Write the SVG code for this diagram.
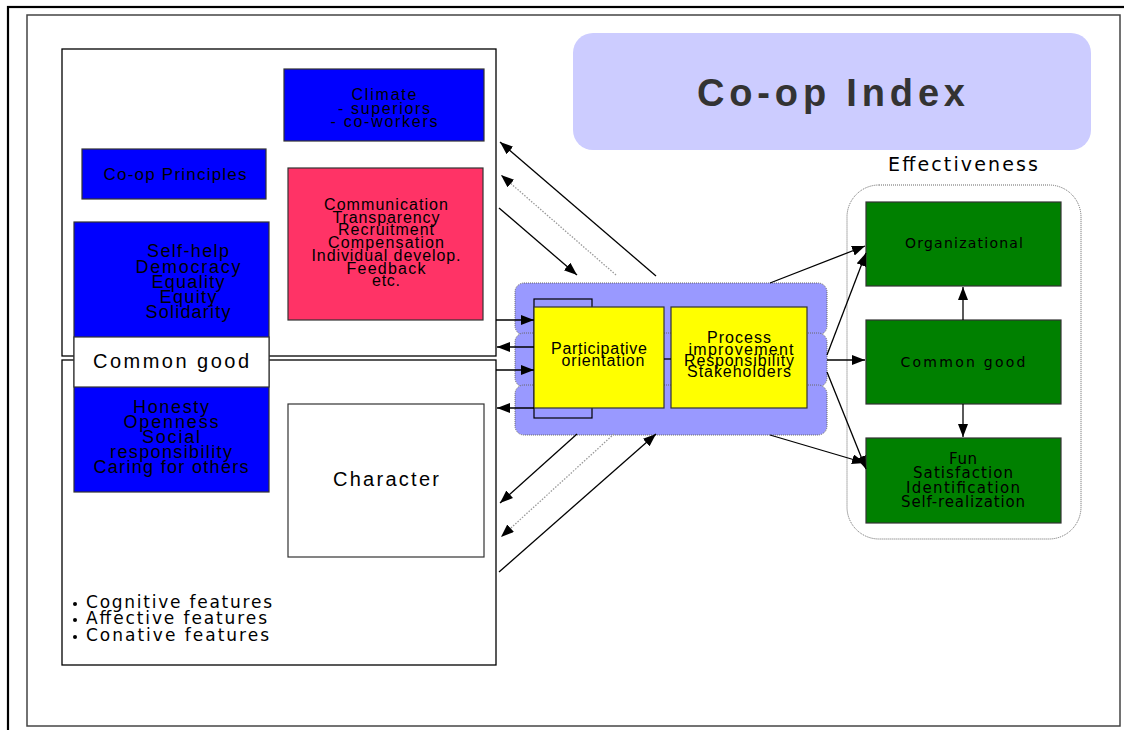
<svg xmlns="http://www.w3.org/2000/svg" width="1124" height="730" viewBox="0 0 1124 730">
<style>
.box{stroke:#333;stroke-width:1.2}
.blue{fill:#0000ff}
.red{fill:#ff3366}
.yel{fill:#ffff00}
.grn{fill:#008000}
.wht{fill:#ffffff}
.t{font-family:"Liberation Sans",Arial,sans-serif;fill:#000;text-anchor:middle}
.g{font-family:"DejaVu Sans","Liberation Sans",sans-serif;fill:#000}
.ln{stroke:#000;stroke-width:1.3;fill:none}
.dot{stroke:#999;stroke-width:1.3;stroke-dasharray:1.5 1.5;fill:none}
.pur{fill:#9999ff;stroke:#666;stroke-width:1;stroke-dasharray:1 1}
</style>
<defs>
<marker id="ah" markerUnits="userSpaceOnUse" markerWidth="14" markerHeight="12" refX="13" refY="5" orient="auto">
<path d="M0,0 L13,5 L0,10 z" fill="#000"/>
</marker>
</defs>
<rect width="1124" height="730" fill="#fff"/>
<g id="frames">
<rect x="8" y="7" width="1140" height="760" fill="none" stroke="#000" stroke-width="2.2"/>
<rect x="27" y="15" width="1093" height="711" fill="none" stroke="#444" stroke-width="1.5"/>
<rect x="62" y="49" width="434" height="307" fill="#fff" stroke="#000" stroke-width="1.3"/>
<rect x="62" y="360" width="434" height="305" fill="#fff" stroke="#000" stroke-width="1.3"/>
</g>
<g id="title">
<rect x="573" y="33" width="518" height="117" rx="20" fill="#ccccff"/>
<text x="831" y="106" font-family="'Liberation Sans',Arial,sans-serif" font-weight="bold" font-size="38" fill="#333" text-anchor="middle" textLength="268" lengthAdjust="spacing">Co-op Index</text>
</g>
<g id="climate">
<rect class="box blue" x="284" y="69" width="200" height="72"/>
<text class="t" font-size="16"><tspan x="384" y="100" textLength="65" lengthAdjust="spacing">Climate</tspan><tspan x="384" y="114" textLength="92" lengthAdjust="spacing">- superiors</tspan><tspan x="384" y="127" textLength="107" lengthAdjust="spacing">- co-workers</tspan></text>
</g>
<g id="hr-practices">
<rect class="box red" x="288" y="168" width="195" height="152"/>
<text class="t" font-size="16"><tspan x="386" y="210" textLength="124" lengthAdjust="spacing">Communication</tspan><tspan x="386" y="222.7" textLength="107" lengthAdjust="spacing">Transparency</tspan><tspan x="386" y="235.4" textLength="96" lengthAdjust="spacing">Recruitment</tspan><tspan x="386" y="248.1" textLength="116" lengthAdjust="spacing">Compensation</tspan><tspan x="386" y="260.8" textLength="149" lengthAdjust="spacing">Individual develop.</tspan><tspan x="386" y="273.5" textLength="79" lengthAdjust="spacing">Feedback</tspan><tspan x="386" y="286.2" textLength="28" lengthAdjust="spacing">etc.</tspan></text>
</g>
<g id="coop-principles">
<rect class="box blue" x="82" y="149" width="184" height="50"/>
<text class="t" font-size="17" x="175" y="180" textLength="143" lengthAdjust="spacing">Co-op Principles</text>
</g>
<g id="values">
<rect class="box blue" x="74" y="222" width="195" height="270"/>
<text class="t" font-size="18"><tspan x="188" y="257" textLength="82" lengthAdjust="spacing">Self-help</tspan><tspan x="188" y="272.5" textLength="105" lengthAdjust="spacing">Democracy</tspan><tspan x="188" y="288" textLength="73" lengthAdjust="spacing">Equality</tspan><tspan x="188" y="303" textLength="57" lengthAdjust="spacing">Equity</tspan><tspan x="188" y="318" textLength="85" lengthAdjust="spacing">Solidarity</tspan></text>
<text class="t" font-size="18"><tspan x="171" y="413" textLength="76" lengthAdjust="spacing">Honesty</tspan><tspan x="171" y="428" textLength="95" lengthAdjust="spacing">Openness</tspan><tspan x="171" y="443" textLength="58" lengthAdjust="spacing">Social</tspan><tspan x="171" y="458" textLength="122" lengthAdjust="spacing">responsibility</tspan><tspan x="171" y="473" textLength="155" lengthAdjust="spacing">Caring for others</tspan></text>
</g>
<g id="common-good-left">
<rect class="box wht" x="74" y="337" width="195" height="50"/>
<text class="t" font-size="20" x="171" y="368" textLength="156" lengthAdjust="spacing">Common good</text>
</g>
<g id="character">
<rect class="box wht" x="288" y="404" width="196" height="153"/>
<text class="t" font-size="20" x="386" y="486" textLength="106" lengthAdjust="spacing">Character</text>
</g>
<g id="features">
<circle cx="75" cy="604" r="2" fill="#000"/>
<circle cx="75" cy="620" r="2" fill="#000"/>
<circle cx="75" cy="637" r="2" fill="#000"/>
<text class="g" font-size="17"><tspan x="86" y="608" textLength="186" lengthAdjust="spacing">Cognitive features</tspan><tspan x="86" y="624" textLength="181" lengthAdjust="spacing">Affective features</tspan><tspan x="86" y="641" textLength="183" lengthAdjust="spacing">Conative features</tspan></text>
</g>
<g id="process-band">
<rect class="pur" x="515" y="283" width="312" height="52" rx="9"/>
<rect class="pur" x="515" y="333" width="312" height="54" rx="9"/>
<rect class="pur" x="515" y="385" width="312" height="50" rx="9"/>
<rect x="534" y="299" width="58" height="119" fill="none" stroke="#000" stroke-width="1.2"/>
</g>
<g id="participative">
<rect class="box yel" x="534" y="307" width="130" height="101"/>
<text class="t" font-size="16"><tspan x="599" y="354" textLength="96" lengthAdjust="spacing">Participative</tspan><tspan x="603" y="366" textLength="83" lengthAdjust="spacing">orientation</tspan></text>
</g>
<g id="process">
<rect class="box yel" x="671" y="307" width="136" height="101"/>
<text class="t" font-size="16"><tspan x="739" y="343" textLength="64" lengthAdjust="spacing">Process</tspan><tspan x="741" y="354.5" textLength="105" lengthAdjust="spacing">improvement</tspan><tspan x="739" y="366" textLength="110" lengthAdjust="spacing">Responsibility</tspan><tspan x="739" y="377" textLength="104" lengthAdjust="spacing">Stakeholders</tspan></text>
</g>
<g id="effectiveness">
<text class="g" font-size="19" x="963" y="171" text-anchor="middle" textLength="150" lengthAdjust="spacing">Effectiveness</text>
<rect x="847" y="185" width="234" height="354" rx="32" fill="none" stroke="#666" stroke-width="1" stroke-dasharray="1 1"/>
</g>
<g id="organizational">
<rect class="box grn" x="866" y="202" width="195" height="84"/>
<text class="g" font-size="14" x="964" y="248" text-anchor="middle" textLength="118" lengthAdjust="spacing">Organizational</text>
</g>
<g id="common-good-right">
<rect class="box grn" x="866" y="320" width="195" height="84"/>
<text class="g" font-size="14" x="963" y="367" text-anchor="middle" textLength="125" lengthAdjust="spacing">Common good</text>
</g>
<g id="fun">
<rect class="box grn" x="866" y="438" width="195" height="85"/>
<text class="g" font-size="15" text-anchor="middle"><tspan x="963" y="464" textLength="28" lengthAdjust="spacing">Fun</tspan><tspan x="963" y="478" textLength="100" lengthAdjust="spacing">Satisfaction</tspan><tspan x="963" y="493" textLength="114" lengthAdjust="spacing">Identification</tspan><tspan x="963" y="507" textLength="124" lengthAdjust="spacing">Self-realization</tspan></text>
</g>
<g id="connectors">
<line class="ln" x1="656" y1="276" x2="500" y2="142" marker-end="url(#ah)"/>
<line class="dot" x1="616" y1="275" x2="501" y2="175" marker-end="url(#ah)"/>
<line class="ln" x1="499" y1="208" x2="577" y2="275" marker-end="url(#ah)"/>
<line class="ln" x1="577" y1="434" x2="500" y2="503" marker-end="url(#ah)"/>
<line class="dot" x1="614" y1="434" x2="501" y2="537" marker-end="url(#ah)"/>
<line class="ln" x1="499" y1="572" x2="656" y2="434" marker-end="url(#ah)"/>
<line class="ln" x1="496" y1="320" x2="534" y2="320" marker-end="url(#ah)"/>
<line class="ln" x1="534" y1="347" x2="497" y2="347" marker-end="url(#ah)"/>
<line class="ln" x1="496" y1="370" x2="534" y2="370" marker-end="url(#ah)"/>
<line class="ln" x1="534" y1="408" x2="497" y2="408" marker-end="url(#ah)"/>
<line class="ln" x1="664" y1="359" x2="671" y2="359"/>
<line class="ln" x1="770" y1="283" x2="865" y2="246" marker-end="url(#ah)"/>
<line class="ln" x1="827" y1="355" x2="866" y2="253" marker-end="url(#ah)"/>
<line class="ln" x1="827" y1="360" x2="865" y2="360" marker-end="url(#ah)"/>
<line class="ln" x1="827" y1="372" x2="866" y2="469" marker-end="url(#ah)"/>
<line class="ln" x1="770" y1="435" x2="865" y2="463" marker-end="url(#ah)"/>
<line class="ln" x1="963" y1="320" x2="963" y2="287" marker-end="url(#ah)"/>
<line class="ln" x1="963" y1="404" x2="963" y2="437" marker-end="url(#ah)"/>
</g>
</svg>
